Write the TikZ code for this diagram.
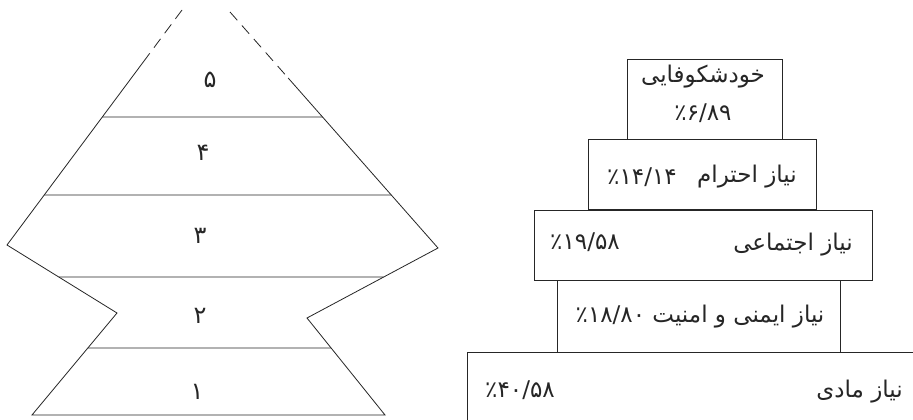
\documentclass[tikz,border=0pt]{standalone}
\usepackage{fontspec}
\TeXXeTstate=1
\newfontfamily\arabicfont[Script=Arabic]{DejaVu Sans}
\usetikzlibrary{calc}
\begin{document}
\begin{tikzpicture}[x=1pt,y=-1pt]
\tikzset{
  edge/.style={draw=black!85, line width=0.8pt},
  pbox/.style={draw=black!85, line width=0.8pt, rectangle, inner sep=0pt},
  ptext/.style={font=\arabicfont\fontsize{23}{25}\selectfont, inner sep=0pt, text=black!85},
  ntext/.style={font=\arabicfont\fontsize{23}{25}\selectfont, inner sep=0pt, text=black!85},
  dtext/.style={font=\arabicfont\fontsize{24}{26}\selectfont, inner sep=0pt, text=black!85},
}
\useasboundingbox (0,0) rectangle (913,420);
\clip (0,0) rectangle (913,420);
\fill[white] (0,0) rectangle (913,420);

% left figure
\coordinate (L0) at (182,10);
\coordinate (R0) at (230,12);
\coordinate (A) at (7,245);
\coordinate (B) at (117,313);
\coordinate (C) at (32,415);
\coordinate (D) at (385,415);
\coordinate (E) at (307,318);
\coordinate (F) at (438,248);
\coordinate (Ld) at ($(L0)!0.2128!(A)$);
\coordinate (Rd) at ($(R0)!0.2797!(F)$);
\draw[edge, dash pattern=on 11pt off 7pt] (L0) -- (Ld);
\draw[edge, dash pattern=on 11pt off 7pt] (R0) -- (Rd);
\draw[edge] (Ld) -- (A) -- (B) -- (C) -- (D) -- (E) -- (F) -- (Rd);
\draw[edge] ($(L0)!0.4553!(A)$) -- ($(R0)!0.4449!(F)$);
\draw[edge] ($(L0)!0.7872!(A)$) -- ($(R0)!0.7754!(F)$);
\draw[edge] ($(A)!0.4706!(B)$) -- ($(F)!0.4143!(E)$);
\draw[edge] ($(B)!0.3431!(C)$) -- ($(E)!0.3093!(D)$);

\node[dtext] (n5) at (210,80) {۵};
\node[dtext] (n4) at (203,153) {۴};
\node[dtext] (n3) at (200,236) {۳};
\node[dtext] (n2) at (200,316) {۲};
\node[dtext] (n1) at (197,392) {۱};

% right figure
\node[pbox, minimum width=463pt, minimum height=88pt] (b5) at (698.5,396) {};
\node[pbox, minimum width=283pt, minimum height=72pt] (b4) at (698.5,316) {};
\node[pbox, minimum width=338pt, minimum height=70pt] (b3) at (703,245) {};
\node[pbox, minimum width=228pt, minimum height=70pt] (b2) at (702,174) {};
\node[pbox, minimum width=155pt, minimum height=80pt] (b1) at (704.5,99) {};

\node[ptext] (t1a) at (703,77) {\beginR خودشکوفایی\endR};
\node[ntext] (t1b) at (703,113) {٪۶/۸۹};
\node[ntext, anchor=west] (t2n) at (607,177) {٪۱۴/۱۴};
\node[ptext, anchor=east] (t2w) at (797,177) {\beginR نیاز احترام\endR};
\node[ntext, anchor=west] (t3n) at (550,242) {٪۱۹/۵۸};
\node[ptext, anchor=east] (t3w) at (853,245) {\beginR نیاز اجتماعی\endR};
\node[ptext] (t4) at (700,317) {٪۱۸/۸۰ \beginR نیاز ایمنی و امنیت\endR};
\node[ntext, anchor=west] (t5n) at (485,390) {٪۴۰/۵۸};
\node[ptext, anchor=east] (t5w) at (903,392) {\beginR نیاز مادی\endR};
\end{tikzpicture}
\end{document}
